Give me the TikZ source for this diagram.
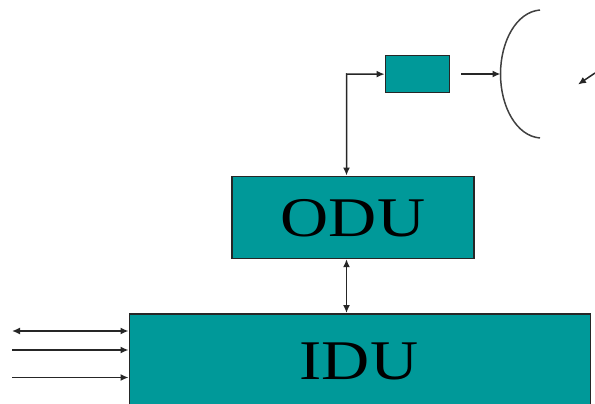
\documentclass[tikz,border=0pt]{standalone}
\usepackage{fontspec}
\setmainfont{Liberation Serif}
\usetikzlibrary{arrows.meta}
\definecolor{teal0}{RGB}{0,153,153}
\tikzset{
  x=1pt,y=-1pt,
  blockbox/.style={draw=black!85,line width=1.7pt,fill=teal0,inner sep=0pt,anchor=north west},
  link/.style={draw=black!85,line width=1.5pt,-{Latex[length=8pt,width=7pt]}},
  twoway/.style={link,{Latex[length=8pt,width=7pt]}-{Latex[length=8pt,width=7pt]}},
  biglabel/.style={font=\fontsize{56}{60}\selectfont,xscale=1.19,text=black}
}
\begin{document}
\begin{tikzpicture}
\useasboundingbox (0,0) rectangle (595,404);
\clip (0,0) rectangle (595,404);
\node[blockbox,minimum width=64pt,minimum height=37pt] (conv) at (384.6,54.8) {};
\node[blockbox,minimum width=242pt,minimum height=82pt] (odu) at (231.4,175.5) {};
\node[blockbox,minimum width=461pt,minimum height=110pt] (idu) at (128.5,313) {};
\node[biglabel] (odutext) at (353,218.5) {ODU};
\node[biglabel] (idutext) at (359,361.5) {IDU};
\coordinate (bend) at (346.5,74);
\coordinate (dishv) at (500.5,74);
\coordinate (dfree) at (461,74);
\coordinate (s1) at (595,73);
\coordinate (s2) at (578,84.5);
\coordinate (l1) at (12,331);
\coordinate (l2) at (12,350);
\coordinate (l3) at (12,377.5);
\draw[twoway] (conv.west) -- (bend) -- (bend |- odu.north);
\draw[link] (dfree) -- (dishv);
\draw[link] (s1) -- (s2);
\draw[twoway] (bend |- odu.south) -- (bend |- idu.north);
\draw[twoway] (l1) -- (l1 -| idu.west);
\draw[link] (l2) -- (l2 -| idu.west);
\draw[link] (l3) -- (l3 -| idu.west);
\draw[black!75,line width=1.5pt] (540,10) .. controls (516,12) and (500.5,42) .. (500.5,74) .. controls (500.5,106) and (516,136) .. (540,138);
\end{tikzpicture}
\end{document}
